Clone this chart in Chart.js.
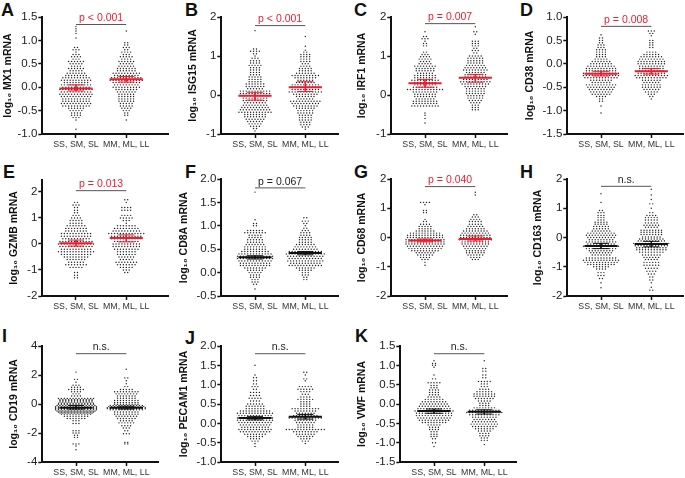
<!DOCTYPE html>
<html>
<head>
<meta charset="utf-8">
<style>
  html, body { margin: 0; padding: 0; background: #fff; }
  #page { position: relative; width: 685px; height: 478px; overflow: hidden; }
  #page canvas { position: absolute; }
  .letter { position: absolute; font: bold 18px "Liberation Sans", Arial, sans-serif; line-height: 18px; color: #111; }
</style>
<script src="https://cdn.jsdelivr.net/npm/chart.js@4/dist/chart.umd.min.js"></script>
</head>
<body>
<div id="page"></div>
<script>
// x axis groups
const groupLabels = ['SS, SM, SL', 'MM, ML, LL'];

// swarm rows: [log10 value, number of dots in that row]
const mx1Low = [[1.3,1],[1.25,1],[1.2,1],[1.15,1],[1.05,1],[.85,2],[.8,3],[.75,1],[.7,3],[.65,4],[.6,3],[.55,6],[.5,5],[.45,4],[.4,6],[.35,5],[.3,7],[.25,8],[.2,10],[.15,11],[.1,9],[.05,11],[0,10],[-.05,12],[-.1,11],[-.15,12],[-.2,11],[-.25,10],[-.3,10],[-.35,11],[-.4,10],[-.45,6],[-.5,5],[-.55,4],[-.6,4],[-.65,3],[-.7,1],[-.9,1]];
const mx1High = [[1.2,1],[.95,2],[.9,2],[.85,3],[.8,2],[.75,4],[.7,3],[.65,5],[.6,4],[.55,6],[.5,5],[.45,6],[.4,7],[.35,7],[.3,10],[.25,9],[.2,11],[.15,12],[.1,10],[.05,9],[0,10],[-.05,8],[-.1,7],[-.15,6],[-.2,6],[-.25,6],[-.3,6],[-.35,5],[-.4,5],[-.45,4],[-.5,3],[-.55,2],[-.6,2],[-.7,1]];
const isg15Low = [[1.65,1],[1.18,2],[1.12,4],[1.06,2],[1,1],[.94,3],[.88,4],[.82,4],[.76,5],[.7,4],[.64,4],[.58,4],[.52,4],[.46,5],[.4,5],[.34,5],[.28,7],[.22,7],[.16,6],[.1,11],[.04,11],[-.02,10],[-.08,9],[-.14,9],[-.2,8],[-.26,9],[-.32,10],[-.38,11],[-.44,12],[-.5,8],[-.56,8],[-.62,7],[-.68,6],[-.74,5],[-.8,4],[-.86,2],[-.92,1]];
const isg15High = [[1.5,1],[1.25,1],[1.15,1],[1.1,2],[1.04,4],[.98,4],[.92,4],[.86,4],[.8,3],[.74,4],[.68,5],[.62,5],[.56,7],[.5,10],[.44,8],[.38,6],[.32,7],[.26,10],[.2,10],[.14,10],[.08,12],[.02,9],[-.04,7],[-.1,6],[-.16,11],[-.22,10],[-.28,9],[-.34,7],[-.4,6],[-.46,6],[-.52,5],[-.58,5],[-.64,5],[-.7,4],[-.76,4],[-.82,3],[-.88,1]];
const irf1Low = [[1.62,1],[1.5,2],[1.44,3],[1.38,1],[1.32,2],[1.26,2],[1.1,2],[1.04,3],[.98,4],[.92,5],[.86,4],[.8,5],[.74,8],[.68,7],[.62,7],[.56,6],[.5,8],[.44,8],[.38,10],[.32,8],[.26,8],[.2,9],[.14,13],[.08,9],[.02,8],[-.04,8],[-.1,7],[-.16,9],[-.22,9],[-.28,10],[-.46,1],[-.52,1],[-.6,1],[-.72,1]];
const irf1High = [[1.75,1],[1.62,2],[1.56,1],[1.38,3],[1.32,3],[1.26,3],[1.2,2],[1.14,3],[1.08,2],[1,5],[.94,6],[.88,6],[.82,6],[.76,7],[.7,8],[.64,9],[.58,7],[.52,8],[.46,8],[.4,9],[.34,11],[.28,10],[.22,8],[.16,7],[.1,7],[.04,7],[-.02,6],[-.08,6],[-.14,5],[-.2,4],[-.26,3],[-.32,3],[-.38,3]];
const cd38Low = [[.62,1],[.55,2],[.5,2],[.45,2],[.4,3],[.35,3],[.3,4],[.25,4],[.2,4],[.15,4],[.1,5],[.05,7],[0,8],[-.05,10],[-.1,11],[-.15,11],[-.2,13],[-.25,13],[-.3,12],[-.35,8],[-.4,7],[-.45,11],[-.5,10],[-.55,9],[-.6,8],[-.65,7],[-.7,4],[-.75,2],[-.8,2],[-.9,1],[-1.05,1]];
const cd38High = [[.7,3],[.65,2],[.6,1],[.5,2],[.45,2],[.4,2],[.35,2],[.25,4],[.2,6],[.15,8],[.1,9],[.05,10],[0,10],[-.05,9],[-.1,9],[-.15,9],[-.2,10],[-.25,12],[-.3,11],[-.35,7],[-.4,6],[-.45,7],[-.5,7],[-.55,6],[-.6,5],[-.65,3],[-.7,2],[-.75,1]];
const gzmbLow = [[1.6,2],[1.5,3],[1.4,2],[1.3,2],[1.2,2],[1.1,3],[1,4],[.9,5],[.8,5],[.7,7],[.6,8],[.5,8],[.4,11],[.3,11],[.2,10],[.1,12],[0,13],[-.1,12],[-.2,11],[-.3,13],[-.4,11],[-.5,9],[-.6,7],[-.7,6],[-.8,8],[-.9,5],[-1.1,2],[-1.2,2],[-1.3,2]];
const gzmbHigh = [[1.7,2],[1.6,1],[1.4,4],[1.3,4],[1.1,4],[1,5],[.9,3],[.8,1],[.7,7],[.6,9],[.5,10],[.4,13],[.3,11],[.2,11],[.1,9],[0,10],[-.1,10],[-.2,9],[-.3,7],[-.4,7],[-.5,6],[-.6,5],[-.7,8],[-.8,7],[-.9,5],[-1,3],[-1.1,2]];
const cd8aLow = [[1.72,1],[1.13,1],[1.05,2],[1,2],[.9,6],[.85,8],[.8,5],[.75,5],[.7,6],[.65,6],[.6,7],[.55,8],[.5,8],[.45,10],[.4,12],[.35,13],[.3,13],[.25,12],[.2,11],[.15,11],[.1,8],[.05,6],[0,5],[-.05,4],[-.1,4],[-.15,3],[-.2,3],[-.25,2],[-.35,1]];
const cd8aHigh = [[1.17,2],[1.1,3],[1.05,2],[1,1],[.95,2],[.9,3],[.85,4],[.8,4],[.75,5],[.7,5],[.65,5],[.6,7],[.55,8],[.5,9],[.45,12],[.4,14],[.35,13],[.3,12],[.25,13],[.2,11],[.15,12],[.1,7],[.05,5],[0,3],[-.05,3],[-.1,2],[-.15,2]];
const cd68Low = [[1.2,4],[1.12,1],[.92,2],[.85,2],[.62,1],[.55,2],[.45,4],[.38,5],[.3,5],[.22,7],[.15,11],[.08,13],[0,13],[-.08,14],[-.15,14],[-.22,14],[-.3,13],[-.38,12],[-.45,10],[-.52,7],[-.6,6],[-.68,4],[-.75,3],[-.85,1],[-.95,1]];
const cd68High = [[1.55,1],[1.45,1],[.78,2],[.7,3],[.62,4],[.55,5],[.45,5],[.38,6],[.3,7],[.22,9],[.15,10],[.08,11],[0,11],[-.08,12],[-.15,10],[-.22,10],[-.3,9],[-.38,8],[-.45,7],[-.52,7],[-.6,6],[-.68,4],[-.75,3]];
const cd163Low = [[1.5,1],[1.2,1],[.92,2],[.85,3],[.75,3],[.68,3],[.6,3],[.52,5],[.45,5],[.38,6],[.3,6],[.22,7],[.15,10],[.08,11],[0,10],[-.08,9],[-.15,11],[-.22,10],[-.3,13],[-.38,11],[-.45,9],[-.52,8],[-.6,7],[-.7,11],[-.78,13],[-.85,12],[-.92,10],[-1,6],[-1.08,4],[-1.2,3],[-1.3,3],[-1.4,2],[-1.55,1],[-1.72,1]];
const cd163High = [[1.65,1],[1.45,1],[1.3,1],[1.15,2],[1,1],[.85,2],[.75,4],[.68,5],[.6,5],[.5,5],[.42,6],[.35,5],[.25,8],[.18,8],[.1,8],[.02,7],[-.05,9],[-.12,10],[-.2,13],[-.28,12],[-.35,11],[-.42,11],[-.5,9],[-.6,7],[-.68,6],[-.75,5],[-.85,6],[-.95,6],[-1.05,5],[-1.15,4],[-1.25,3],[-1.35,2],[-1.45,2],[-1.55,1],[-1.7,1],[-1.8,2]];
const cd19Low = [[2.2,1],[1.7,2],[1.5,1],[1.3,3],[1.15,4],[1,6],[.85,4],[.7,3],[.55,4],[.38,13],[.3,12],[.22,12],[.14,12],[.06,13],[-.02,13],[-.1,14],[-.18,15],[-.25,15],[-.32,15],[-.4,15],[-.48,14],[-.55,13],[-.62,12],[-.7,11],[-.85,9],[-1,7],[-1.15,3],[-1.35,3],[-1.85,3],[-2,3],[-2.15,2],[-2.3,2],[-2.75,3],[-2.9,1],[-3.15,1]];
const cd19High = [[2.4,1],[1.8,2],[1.6,1],[1.4,1],[1.2,2],[1,5],[.85,9],[.7,8],[.55,7],[.4,7],[.25,9],[.1,9],[-.02,9],[-.1,12],[-.18,13],[-.25,14],[-.32,14],[-.4,12],[-.55,9],[-.7,9],[-.85,8],[-1,7],[-1.15,5],[-1.3,6],[-1.5,4],[-1.65,3],[-1.85,2],[-2.05,3],[-2.65,2],[-2.75,2]];
const pecam1Low = [[1.5,1],[1.25,1],[1.18,2],[1.1,2],[1.02,2],[.95,3],[.88,2],[.8,4],[.72,4],[.65,5],[.58,4],[.5,6],[.44,7],[.38,7],[.32,11],[.26,13],[.2,12],[.14,13],[.08,13],[.02,12],[-.04,11],[-.1,10],[-.16,12],[-.22,11],[-.28,8],[-.34,6],[-.4,4],[-.46,3],[-.52,1],[-.6,1]];
const pecam1High = [[1.32,2],[1.25,1],[1.15,2],[1.1,1],[.95,5],[.88,6],[.82,4],[.75,3],[.68,4],[.62,6],[.56,4],[.5,4],[.44,4],[.38,10],[.32,8],[.26,7],[.2,9],[.14,12],[.08,8],[.02,7],[-.04,6],[-.1,6],[-.16,14],[-.22,9],[-.28,7],[-.34,6],[-.4,4],[-.46,3],[-.52,1]];
const vwfLow = [[1.12,1],[1.05,2],[1,2],[.95,1],[.75,1],[.65,2],[.55,5],[.48,3],[.42,3],[.36,4],[.3,4],[.24,4],[.18,5],[.12,7],[.06,9],[0,10],[-.06,11],[-.12,12],[-.18,14],[-.24,13],[-.3,13],[-.36,12],[-.42,11],[-.48,9],[-.54,5],[-.6,4],[-.66,4],[-.72,3],[-.78,3],[-.84,3],[-.9,2],[-1,2],[-1.1,1]];
const vwfHigh = [[1.12,1],[.92,2],[.85,2],[.75,2],[.68,2],[.58,5],[.52,3],[.45,3],[.38,4],[.32,6],[.26,8],[.2,8],[.14,7],[.08,5],[.02,4],[-.04,4],[-.1,8],[-.16,11],[-.22,13],[-.28,11],[-.34,9],[-.4,8],[-.46,9],[-.52,10],[-.58,9],[-.64,7],[-.7,5],[-.76,4],[-.82,4],[-.88,3],[-.94,3],[-1.05,1]];

// per panel: [center, upper, lower] for each group
const statsLow = [[-.03,.05,-.08],[-.02,.07,-.13],[.3,.4,.2],[-.21,-.16,-.26],[.03,.15,-.08],[.33,.36,.29],[-.1,-.05,-.15],[-.29,-.2,-.38],[-.25,-.1,-.35],[.14,.18,.09],[-.18,-.13,-.24]];
const statsHigh = [[.17,.23,.11],[.2,.34,.09],[.44,.53,.33],[-.16,-.1,-.22],[.23,.35,.08],[.42,.45,.38],[-.05,.05,-.12],[-.22,-.13,-.32],[-.25,-.15,-.35],[.17,.23,.11],[-.2,-.15,-.26]];

const panelLetters = ['A','B','C','D','E','F','G','H','I','J','K'];
const genes = ['MX1','ISG15','IRF1','CD38','GZMB','CD8A','CD68','CD163','CD19','PECAM1','VWF'];
const pLabels = ['p < 0.001','p < 0.001','p = 0.007','p = 0.008','p = 0.013','p = 0.067','p = 0.040','n.s.','n.s.','n.s.','n.s.'];
const bracketY = [1.34,1.78,1.83,.8,2.05,1.81,1.74,1.75,3.47,1.8,1.3];
const yMin = [-1,-1,-1,-1.5,-2,-.5,-2,-2,-4,-1,-1.5];
const yMax = [1.5,2,2,1,2.46,2,2,2,4,2,1.5];
const yStep = [.5,1,1,.5,1,.5,1,1,2,.5,.5];
const lowRows = [mx1Low,isg15Low,irf1Low,cd38Low,gzmbLow,cd8aLow,cd68Low,cd163Low,cd19Low,pecam1Low,vwfLow];
const highRows = [mx1High,isg15High,irf1High,cd38High,gzmbHigh,cd8aHigh,cd68High,cd163High,cd19High,pecam1High,vwfHigh];

// layout in page pixels
const axisX = [42,221,391,567,42,221,391,567,42,221,400];
const axisEnd = [168,338,507,683,168,338,507,683,158,338,516];
const axisTop = [16.5,16.5,16.5,16.5,180,179,179,179,346,346,346];
const axisBottom = [133.5,133.5,133.5,133.5,296,296,296,296,462,462,462];
const titleDist = [34,28,29,37,28,37,29,29,28,37,38];
const letterPos = [[1,1],[185,1],[354,1],[520,1],[3,163],[185,163],[354,163],[520,163],[2,327],[185,329],[355,327]];

const FONT = '"Liberation Sans", Arial, sans-serif';
const PX_PER_X = 50;
const DOT_GAP = 2.9;
const RED = '#ee1c2e';

function swarm(rows, center) {
  const pts = [];
  rows.forEach(([v, n]) => {
    for (let i = 0; i < n; i++) {
      pts.push({ x: center + (i - (n - 1) / 2) * DOT_GAP / PX_PER_X, y: v });
    }
  });
  return pts;
}

function seg(x1, y1, x2, y2, color, width) {
  return {
    data: [{ x: x1, y: y1 }, { x: x2, y: y2 }],
    showLine: true, pointRadius: 0, borderColor: color, borderWidth: width, order: 0,
  };
}

function statLines(s, center, color) {
  return [
    seg(center - .33, s[0], center + .33, s[0], color, 2),
    seg(center - .16, s[1], center + .16, s[1], color, 1),
    seg(center - .16, s[2], center + .16, s[2], color, 1),
    seg(center, s[1], center, s[2], color, 1),
  ];
}

// p value text sits just above the bracket, placed through the scales
const pLabelPlugin = {
  id: 'pLabel',
  afterDraw(chart, args, opts) {
    const { ctx, scales } = chart;
    ctx.save();
    ctx.font = '10.5px ' + FONT;
    ctx.fillStyle = opts.color;
    ctx.textAlign = 'center';
    ctx.textBaseline = 'bottom';
    ctx.fillText(opts.text, scales.x.getPixelForValue(1.5), scales.y.getPixelForValue(opts.y) - 1);
    ctx.restore();
  },
};

const page = document.getElementById('page');

panelLetters.forEach((letter, i) => {
  const div = document.createElement('div');
  div.className = 'letter';
  div.textContent = letter;
  div.style.left = letterPos[i][0] + 'px';
  div.style.top = letterPos[i][1] + 'px';
  page.appendChild(div);

  const yWidth = titleDist[i] + 6.3;
  const padTop = 13;
  const xHeight = 24;
  const left = axisX[i] - yWidth;
  const top = axisTop[i] - padTop;
  const canvas = document.createElement('canvas');
  const w = Math.ceil(axisEnd[i] - left);
  const h = Math.ceil(axisBottom[i] - top + xHeight);
  canvas.width = w;
  canvas.height = h;
  canvas.style.width = w + 'px';
  canvas.style.height = h + 'px';
  canvas.style.left = left + 'px';
  canvas.style.top = top + 'px';
  page.appendChild(canvas);

  const isRed = pLabels[i] !== 'n.s.' && pLabels[i] !== 'p = 0.067';
  const markColor = isRed ? RED : '#111';
  const decimals = yStep[i] < 1 ? 1 : 0;

  new Chart(canvas, {
    type: 'scatter',
    data: {
      datasets: [
        ...statLines(statsLow[i], 1, markColor),
        ...statLines(statsHigh[i], 2, markColor),
        seg(1, bracketY[i], 2, bracketY[i], '#555', 1),
        { data: swarm(lowRows[i], 1), pointRadius: 0.72, pointBackgroundColor: '#222', pointBorderWidth: 0, order: 1 },
        { data: swarm(highRows[i], 2), pointRadius: 0.72, pointBackgroundColor: '#222', pointBorderWidth: 0, order: 1 },
      ],
    },
    options: {
      responsive: false,
      animation: false,
      devicePixelRatio: 1,
      layout: { padding: { top: padTop, right: 0, left: 0, bottom: 0 }, autoPadding: false },
      plugins: {
        legend: { display: false },
        tooltip: { enabled: false },
        pLabel: { text: pLabels[i], y: bracketY[i], color: isRed ? RED : '#222' },
      },
      scales: {
        x: {
          type: 'linear',
          min: 1 - 33.5 / PX_PER_X,
          max: 1 + (axisEnd[i] - axisX[i] - 33.5) / PX_PER_X,
          afterBuildTicks: (s) => { s.ticks = [{ value: 1 }, { value: 2 }]; },
          afterFit: (s) => { s.height = xHeight; },
          grid: { drawOnChartArea: false, tickLength: 4, tickWidth: 1.5, tickColor: '#111' },
          border: { color: '#111', width: 2 },
          ticks: {
            autoSkip: false, maxRotation: 0, padding: 1, color: '#333',
            font: { family: FONT, size: 8.8 },
            callback: (v) => groupLabels[v - 1],
          },
        },
        y: {
          min: yMin[i],
          max: yMax[i],
          afterFit: (s) => { s.width = yWidth; },
          grid: { drawOnChartArea: false, tickLength: 4, tickWidth: 1.5, tickColor: '#111' },
          border: { color: '#111', width: 2 },
          title: {
            display: true,
            text: 'log₁₀ ' + genes[i] + ' mRNA',
            color: '#111',
            padding: 0,
            font: { family: FONT, size: 10.5, weight: 'bold' },
          },
          ticks: {
            stepSize: yStep[i], includeBounds: false, padding: 1, color: '#222',
            font: { family: FONT, size: 11.5 },
            callback: (v) => v.toFixed(decimals),
          },
        },
      },
    },
    plugins: [pLabelPlugin],
  });
});
</script>
</body>
</html>
